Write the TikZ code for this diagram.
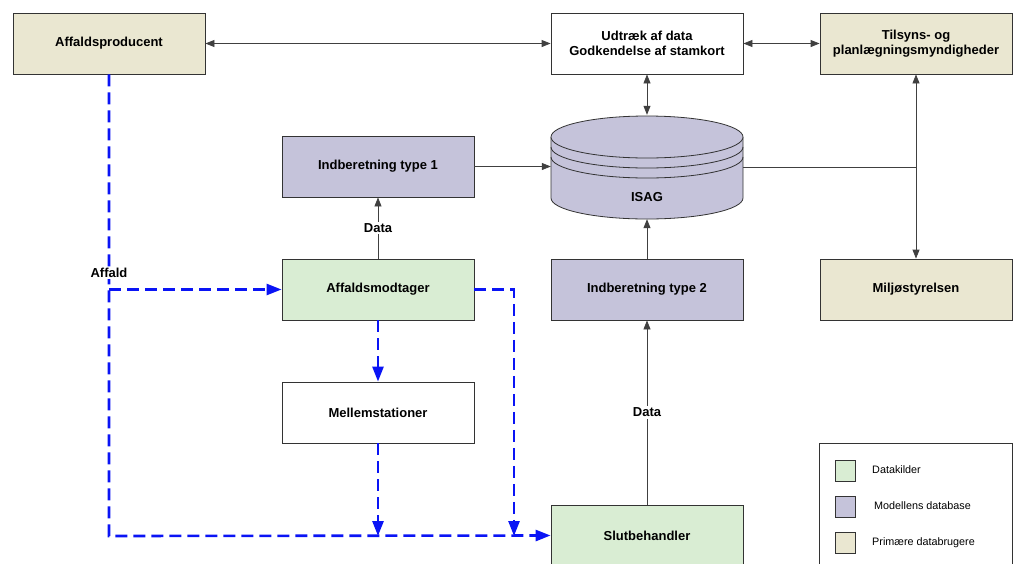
\documentclass[tikz,border=0pt]{standalone}
\usepackage{fontspec}
\setmainfont{Liberation Sans}
\usetikzlibrary{arrows.meta}
\definecolor{tanc}{HTML}{EAE7D1}
\definecolor{purc}{HTML}{C5C3DA}
\definecolor{grnc}{HTML}{D9EDD3}
\definecolor{edgec}{HTML}{333333}
\definecolor{linec}{HTML}{404040}
\definecolor{flowc}{HTML}{0A14F5}
\tikzset{
  boxnode/.style={draw=edgec, line width=0.8pt, minimum width=192pt, minimum height=61pt,
    inner sep=0pt, align=center, font=\fontsize{13}{15.5}\selectfont\bfseries},
  conn/.style={draw=linec, line width=0.8pt},
  tip/.style={-{Triangle[length=9pt,width=7pt]}},
  tips/.style={{Triangle[length=9pt,width=7pt]}-{Triangle[length=9pt,width=7pt]}},
  flow/.style={draw=flowc, line width=2.6pt, dash pattern=on 12pt off 6pt,
    -{Triangle[length=15pt,width=11pt]}},
  lbl/.style={fill=white, inner sep=1.5pt, font=\fontsize{13}{15.5}\selectfont\bfseries},
  legtext/.style={anchor=west, inner sep=0pt, font=\fontsize{10.8}{12}\selectfont},
  legsq/.style={draw=edgec, line width=0.7pt}
}
\begin{document}
\begin{tikzpicture}[x=1pt,y=-1pt]
\useasboundingbox (0,0) rectangle (1015,563);

% boxes
\node[boxnode, fill=tanc] (prod) at (109,43.5) {Affaldsproducent};
\node[boxnode, fill=white] (udt) at (647,43.5) {Udtræk af data\\Godkendelse af stamkort};
\node[boxnode, fill=tanc] (tils) at (916,43.5) {Tilsyns- og\\planlægningsmyndigheder};
\node[boxnode, fill=purc] (ind1) at (378,166.5) {Indberetning type 1};
\node[boxnode, fill=purc] (ind2) at (647,289.5) {Indberetning type 2};
\node[boxnode, fill=tanc] (milj) at (916,289.5) {Miljøstyrelsen};
\node[boxnode, fill=grnc] (modt) at (378,289.5) {Affaldsmodtager};
\node[boxnode, fill=white] (mell) at (378,412.5) {Mellemstationer};
\node[boxnode, fill=grnc] (slut) at (647,535.5) {Slutbehandler};

% ISAG cylinder
\path[fill=purc] (551,137) -- (551,198) arc[start angle=180,end angle=360,x radius=96pt,y radius=21pt] -- (743,137) -- cycle;
\draw[draw=edgec, line width=0.8pt] (551,137) -- (551,198) arc[start angle=180,end angle=360,x radius=96pt,y radius=21pt] -- (743,137);
\draw[draw=edgec, line width=0.8pt, fill=purc] (647,137) ellipse[x radius=96pt, y radius=21pt];
\draw[draw=edgec, line width=0.8pt] (551,147) arc[start angle=180,end angle=360,x radius=96pt,y radius=21pt];
\draw[draw=edgec, line width=0.8pt] (551,157) arc[start angle=180,end angle=360,x radius=96pt,y radius=21pt];
\node[minimum width=192pt, minimum height=104pt, inner sep=0pt] (isag) at (647,167) {};
\node[font=\fontsize{13}{15.5}\selectfont\bfseries] (isaglbl) at (647,197) {ISAG};

% black connectors
\draw[conn, tips] (prod.east) -- (udt.west);
\draw[conn, tips] (udt.east) -- (tils.west);
\draw[conn, tips] (udt.south) -- (isag.north);
\draw[conn, tip] (ind1.east) -- (ind1.east -| isag.west);
\draw[conn, tip] (ind2.north) -- (isag.south);
\coordinate (junc) at (916,167);
\draw[conn] (isag.east) -- (junc);
\draw[conn, tip] (junc) -- (tils.south);
\draw[conn, tip] (junc) -- (milj.north);
\draw[conn, tip] (modt.north) -- node[lbl] (data1) {Data} (ind1.south);
\draw[conn, tip] (slut.north) -- node[lbl] (data2) {Data} (ind2.south);

% waste flows
\coordinate (c1) at (109,536);
\coordinate (c2) at (109,289.5);
\coordinate (c3) at (378,536);
\coordinate (c4) at (514,289.5);
\coordinate (c5) at (514,536);
\draw[flow] (prod.south) -- (c1) -- (slut.west);
\draw[flow] (c2) -- (modt.west);
\draw[flow] (modt.south) -- (mell.north);
\draw[flow] (mell.south) -- (c3);
\draw[flow] (modt.east) -- (c4) -- (c5);
\node[lbl] (affald) at (109,273) {Affald};

% legend
\node[draw=edgec, line width=0.8pt, minimum width=193pt, minimum height=160pt, anchor=north west, inner sep=0pt] (legend) at (819,443) {};
\node[legsq, fill=grnc, minimum width=20pt, minimum height=21pt, inner sep=0pt] (sq1) at (845,470.5) {};
\node[legsq, fill=purc, minimum width=20pt, minimum height=21pt, inner sep=0pt] (sq2) at (845,506.5) {};
\node[legsq, fill=tanc, minimum width=20pt, minimum height=21pt, inner sep=0pt] (sq3) at (845,543) {};
\node[legtext] (lt1) at (872,470) {Datakilder};
\node[legtext] (lt2) at (874,506) {Modellens database};
\node[legtext] (lt3) at (872,543) {Primære databrugere};
\end{tikzpicture}
\end{document}
